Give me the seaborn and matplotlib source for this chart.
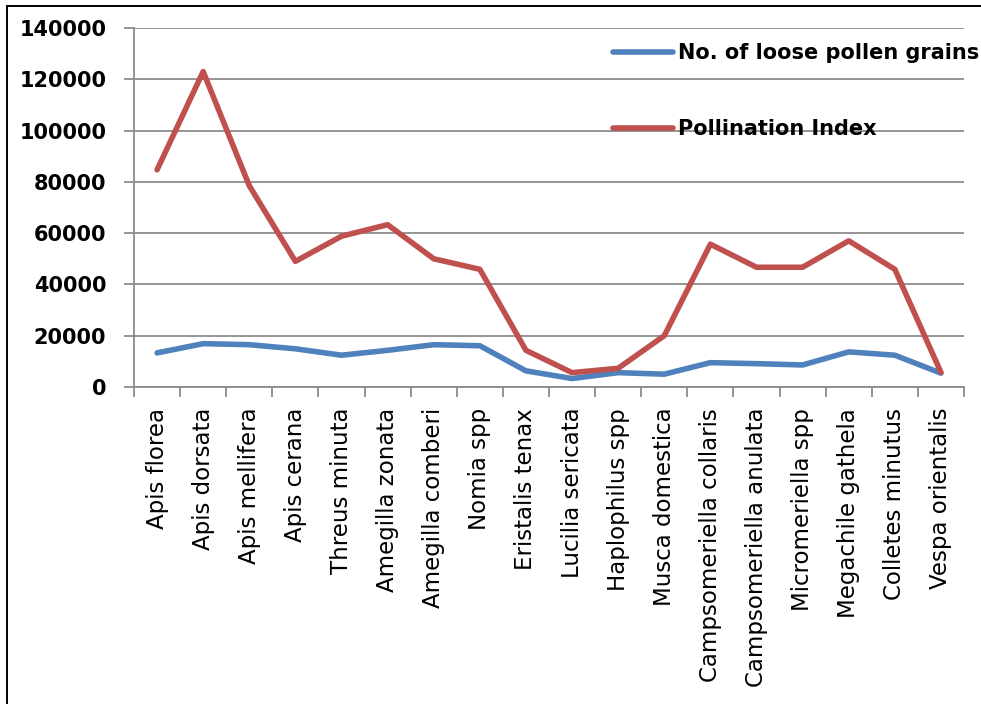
import matplotlib
matplotlib.use("Agg")
import matplotlib.pyplot as plt
from matplotlib.patches import Rectangle
from matplotlib.ticker import FixedLocator, MultipleLocator
import seaborn as sns
import pandas as pd
import numpy as np

# Visitor species on the x axis
species = [
    "Apis florea", "Apis dorsata", "Apis mellifera", "Apis cerana",
    "Threus minuta", "Amegilla zonata", "Amegilla comberi", "Nomia spp",
    "Eristalis tenax", "Lucilia sericata", "Haplophilus spp", "Musca domestica",
    "Campsomeriella collaris", "Campsomeriella anulata", "Micromeriella spp",
    "Megachile gathela", "Colletes minutus", "Vespa orientalis",
]

# Series values
loose_pollen = [13300, 16900, 16500, 14900, 12400, 14300, 16500, 16100, 6300,
                3300, 5600, 5000, 9500, 9100, 8600, 13700, 12400, 5400]
pollination_index = [84700, 123000, 78500, 49000, 58800, 63300, 50000, 45900, 14300,
                     5600, 7300, 20000, 55700, 46700, 46700, 57000, 45900, 5700]

series_names = ["No. of loose pollen grains", "Pollination Index"]
y_ticks = [0, 20000, 40000, 60000, 80000, 100000, 120000, 140000]

df = pd.DataFrame({
    "species": species * 2,
    "value": loose_pollen + pollination_index,
    "series": [series_names[0]] * len(species) + [series_names[1]] * len(species),
})
df["pos"] = np.tile(np.arange(len(species)), 2)

sns.set_style("white")
plt.rcParams["font.family"] = ["DejaVu Sans"]
plt.rcParams["text.color"] = "black"
plt.rcParams["xtick.labelcolor"] = "black"
plt.rcParams["ytick.labelcolor"] = "black"

W, H = 981, 704
fig = plt.figure(figsize=(W / 100, H / 100), dpi=100)
ax = fig.add_axes([134 / W, 1 - 387 / H, (964 - 134) / W, (387 - 28) / H])

grid_c = "#8c8c8c"
sns.lineplot(
    data=df, x="pos", y="value", hue="series", hue_order=series_names,
    palette=["#4F81BD", "#C0504D"], sort=False, linewidth=4.0,
    solid_capstyle="round", ax=ax,
)

ax.set_xlim(-0.5, len(species) - 0.5)
ax.set_ylim(0, 140000)
ax.yaxis.set_major_locator(FixedLocator(y_ticks))
ax.set_yticklabels([str(v) for v in y_ticks], fontsize=15, fontweight="bold", color="black")
ax.yaxis.grid(True, color=grid_c, linewidth=1.3)
ax.set_axisbelow(True)

ax.set_xticks(np.arange(len(species)))
ax.set_xticklabels(species, rotation=90, fontsize=16.5, ha="center", va="top", color="black")
ax.xaxis.set_minor_locator(MultipleLocator(1, offset=0.5))
ax.set_xlim(-0.5, len(species) - 0.5)
ax.tick_params(axis="x", which="major", length=0, pad=15)
ax.tick_params(axis="x", which="minor", length=7, width=1.3, color=grid_c, direction="out", bottom=True)
ax.tick_params(axis="y", which="major", length=7, width=1.3, color=grid_c, direction="out",
               pad=13, left=True)

ax.set_xlabel("")
ax.set_ylabel("")
for side in ["top", "right"]:
    ax.spines[side].set_visible(False)
for side in ["left", "bottom"]:
    ax.spines[side].set_color(grid_c)
    ax.spines[side].set_linewidth(1.3)

handles, labels = ax.get_legend_handles_labels()
leg = ax.legend(
    handles, labels, loc="upper left", bbox_to_anchor=(613 / W, 1 - 43 / H),
    bbox_transform=fig.transFigure, frameon=False, borderpad=0, borderaxespad=0,
    handlelength=2.9, handletextpad=0.2, labelspacing=2.68,
    prop={"family": "DejaVu Sans", "weight": "bold", "size": 15},
)
for text in leg.get_texts():
    text.set_color("black")
for line in leg.get_lines():
    line.set_linewidth(4.0)
    line.set_solid_capstyle("round")

# Outer chart frame
fig.patches.append(Rectangle((7 / W, -0.05), 1.2, (H - 6) / H + 0.05, transform=fig.transFigure,
                             fill=False, edgecolor="black", linewidth=1.4))

fig.savefig("out.png", dpi=100)
